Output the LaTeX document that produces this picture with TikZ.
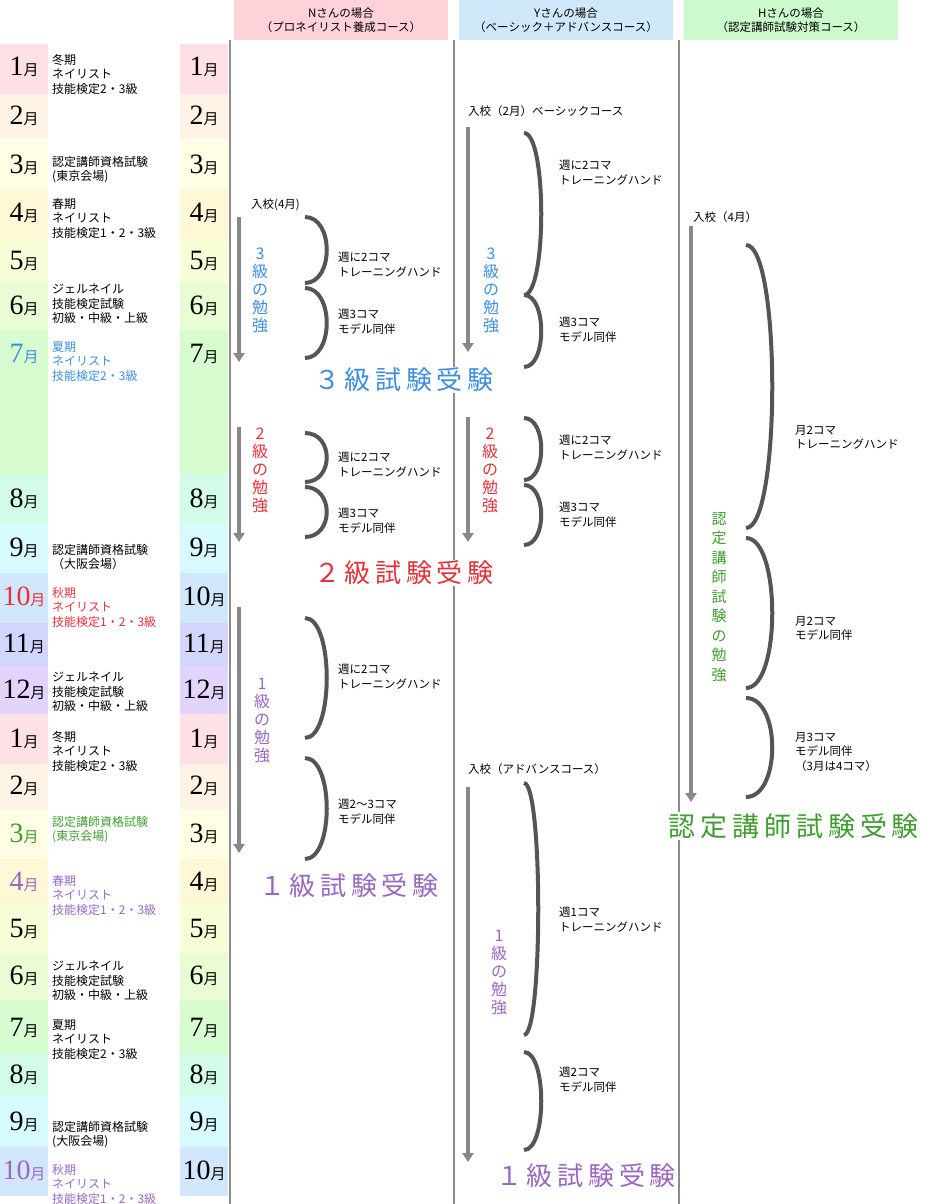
\documentclass[tikz,border=0pt]{standalone}
\usepackage{fontspec}
\setmainfont{Noto Sans CJK JP}
\newfontfamily\numfont{Liberation Serif}
\newfontfamily\examfont[LetterSpace=18]{Noto Sans CJK JP}
\usetikzlibrary{arrows.meta}
\definecolor{CellJan}{HTML}{FFE0E4}
\definecolor{CellFeb}{HTML}{FFF3E6}
\definecolor{CellMar}{HTML}{FFFDE4}
\definecolor{CellApr}{HTML}{FFF8D6}
\definecolor{CellMay}{HTML}{F7FDD6}
\definecolor{CellJun}{HTML}{EAFCD4}
\definecolor{CellJul}{HTML}{D6FCD0}
\definecolor{CellAug}{HTML}{D3FCE8}
\definecolor{CellSep}{HTML}{D6FAFD}
\definecolor{CellOct}{HTML}{D2E6FC}
\definecolor{CellNov}{HTML}{D2D6FC}
\definecolor{CellDec}{HTML}{E2D4FC}
\definecolor{HeadN}{HTML}{FFD2DA}
\definecolor{HeadY}{HTML}{D0E9FA}
\definecolor{HeadH}{HTML}{CDFACD}
\definecolor{StudyBlue}{HTML}{3D8EE0}
\definecolor{StudyRed}{HTML}{E5323A}
\definecolor{StudyPurple}{HTML}{9A68C0}
\definecolor{StudyGreen}{HTML}{3F9E2E}
\definecolor{LineGray}{HTML}{8C8C8C}
\definecolor{ArrowGray}{HTML}{888888}
\definecolor{BraceGray}{HTML}{555555}
\newcommand{\tsuki}[1]{{\numfont\fontsize{28}{28}\selectfont #1}{\fontsize{15}{15}\selectfont 月}}

\begin{document}
\begin{tikzpicture}[x=1pt, y=-1pt,
    evt/.style={anchor=north west, inner sep=0pt, align=left, font=\fontsize{12}{14.5}\selectfont},
    note/.style={anchor=north west, inner sep=0pt, align=left, font=\fontsize{11.5}{14.5}\selectfont},
    hdr/.style={minimum width=214pt, minimum height=40pt, inner sep=0pt, align=center, font=\fontsize{11.5}{14}\selectfont},
    mon/.style={inner sep=0pt},
    tate/.style={align=center, inner sep=0pt, font=\fontsize{16}{18}\selectfont},
    exam/.style={fill=white, inner sep=1pt, font=\examfont\fontsize{26}{26}\selectfont},
    sep/.style={line width=2pt, LineGray},
    arr/.style={-{Triangle[width=11pt,length=9pt]}, line width=4pt, ArrowGray},
    brk/.style={line width=4pt, BraceGray}
  ]
  \useasboundingbox (0,0) rectangle (926,1204);

  \foreach \n/\ya/\yb/\ly/\cc/\kc/\mm in {
      1/44/94/67/CellJan/black/1, 2/94/139/116/CellFeb/black/2,
      3/139/189/165/CellMar/black/3, 4/189/238/213/CellApr/black/4,
      5/238/283/261/CellMay/black/5, 6/283/330/306/CellJun/black/6,
      7/330/474/354/CellJul/StudyBlue/7, 8/474/524/499/CellAug/black/8,
      9/524/573/548/CellSep/black/9, 10/573/623/597/CellOct/StudyRed/10,
      11/623/666/644/CellNov/black/11, 12/666/714/690/CellDec/black/12,
      13/714/764/739/CellJan/black/1, 14/764/809/786/CellFeb/black/2,
      15/809/859/834/CellMar/StudyGreen/3, 16/859/905/882/CellApr/StudyPurple/4,
      17/905/953/929/CellMay/black/5, 18/953/1000/976/CellJun/black/6,
      19/1000/1054/1028/CellJul/black/7, 20/1054/1097/1075/CellAug/black/8,
      21/1097/1147/1122/CellSep/black/9, 22/1147/1196/1171/CellOct/StudyPurple/10}
  {
    \fill[\cc] (0,\ya) rectangle (48,\yb);
    \fill[\cc] (180,\ya) rectangle (228,\yb);
    \node[mon, text=\kc] (ml\n) at (24,\ly) {\tsuki{\mm}};
    \node[mon] (mr\n) at (204,\ly) {\tsuki{\mm}};
  }

  \draw[sep] (229.5,40) -- (229.5,1204);
  \draw[sep] (454,40) -- (454,1204);
  \draw[sep] (679,40) -- (679,1204);

  \node[hdr, fill=HeadN] (hN) at (341,20) {Nさんの場合\\（プロネイリスト養成コース）};
  \node[hdr, fill=HeadY] (hY) at (566,20) {Yさんの場合\\（ベーシック＋アドバンスコース）};
  \node[hdr, fill=HeadH] (hH) at (791,20) {Hさんの場合\\（認定講師試験対策コース）};

  \node[evt] (e1) at (52,54) {冬期\\ネイリスト\\技能検定2・3級};
  \node[evt] (e3) at (52,156) {認定講師資格試験\\(東京会場)};
  \node[evt] (e4) at (52,198) {春期\\ネイリスト\\技能検定1・2・3級};
  \node[evt] (e6) at (52,284) {ジェルネイル\\技能検定試験\\初級・中級・上級};
  \node[evt, text=StudyBlue] (e7) at (52,341) {夏期\\ネイリスト\\技能検定2・3級};
  \node[evt] (e9) at (52,544) {認定講師資格試験\\（大阪会場）};
  \node[evt, text=StudyRed] (e10) at (52,587) {秋期\\ネイリスト\\技能検定1・2・3級};
  \node[evt] (e12) at (52,672) {ジェルネイル\\技能検定試験\\初級・中級・上級};
  \node[evt] (e13) at (52,731) {冬期\\ネイリスト\\技能検定2・3級};
  \node[evt, text=StudyGreen] (e15) at (52,816) {認定講師資格試験\\(東京会場)};
  \node[evt, text=StudyPurple] (e16) at (52,875) {春期\\ネイリスト\\技能検定1・2・3級};
  \node[evt] (e18) at (52,961) {ジェルネイル\\技能検定試験\\初級・中級・上級};
  \node[evt] (e19) at (52,1019) {夏期\\ネイリスト\\技能検定2・3級};
  \node[evt] (e21) at (52,1121) {認定講師資格試験\\(大阪会場)};
  \node[evt, text=StudyPurple] (e22) at (52,1164) {秋期\\ネイリスト\\技能検定1・2・3級};

  \coordinate (na1s) at (239,217); \coordinate (na1e) at (239,362);
  \coordinate (na2s) at (239,427); \coordinate (na2e) at (239,542);
  \coordinate (na3s) at (239,607); \coordinate (na3e) at (239,853);
  \coordinate (ya1s) at (468,127); \coordinate (ya1e) at (468,352);
  \coordinate (ya2s) at (468,417); \coordinate (ya2e) at (468,542);
  \coordinate (ya3s) at (468,787); \coordinate (ya3e) at (468,1162);
  \coordinate (ha1s) at (691,226); \coordinate (ha1e) at (691,802);

  \draw[arr] (na1s) -- (na1e);
  \draw[arr] (na2s) -- (na2e);
  \draw[arr] (na3s) -- (na3e);
  \draw[arr] (ya1s) -- (ya1e);
  \draw[arr] (ya2s) -- (ya2e);
  \draw[arr] (ya3s) -- (ya3e);
  \draw[arr] (ha1s) -- (ha1e);

  \foreach \bx/\ya/\yb/\dx in {305/217/283/29, 305/288/358/29, 305/433/482/29,
      305/487/537/29, 305/618/738/29, 305/758/859/29,
      524/133/295/23, 524/295/367/23, 524/418/480/23, 524/485/545/23,
      524/783/1035/19, 524/1052/1150/23,
      746/245/528/35, 746/538/688/35, 746/698/797/35}
    \draw[brk] (\bx,\ya) .. controls +(\dx,0) and +(\dx,0) .. (\bx,\yb);

  \node[note] (nin) at (251,199) {入校(4月)};
  \node[note] (yin1) at (468,105) {入校（2月）ベーシックコース};
  \node[note] (yin2) at (468,763) {入校（アドバンスコース）};
  \node[note] (hin) at (693,211) {入校（4月）};

  \node[tate, text=StudyBlue] (nst1) at (260,290) {3\\級\\の\\勉\\強};
  \node[tate, text=StudyRed] (nst2) at (260,470) {2\\級\\の\\勉\\強};
  \node[tate, text=StudyPurple] (nst3) at (262,720) {1\\級\\の\\勉\\強};
  \node[tate, text=StudyBlue] (yst1) at (491,290) {3\\級\\の\\勉\\強};
  \node[tate, text=StudyRed] (yst2) at (490,470) {2\\級\\の\\勉\\強};
  \node[tate, text=StudyPurple] (yst3) at (499,972) {1\\級\\の\\勉\\強};
  \node[tate, text=StudyGreen, font=\fontsize{15}{19.5}\selectfont] (hst) at (719,597) {認\\定\\講\\師\\試\\験\\の\\勉\\強};

  \node[note] (n1a) at (338,252) {週に2コマ\\トレーニングハンド};
  \node[note] (n1b) at (338,309) {週3コマ\\モデル同伴};
  \node[note] (n2a) at (338,452) {週に2コマ\\トレーニングハンド};
  \node[note] (n2b) at (338,508) {週3コマ\\モデル同伴};
  \node[note] (n3a) at (338,664) {週に2コマ\\トレーニングハンド};
  \node[note] (n3b) at (338,799) {週2～3コマ\\モデル同伴};
  \node[note] (y1a) at (559,160) {週に2コマ\\トレーニングハンド};
  \node[note] (y1b) at (559,317) {週3コマ\\モデル同伴};
  \node[note] (y2a) at (559,435) {週に2コマ\\トレーニングハンド};
  \node[note] (y2b) at (559,502) {週3コマ\\モデル同伴};
  \node[note] (y3a) at (559,907) {週1コマ\\トレーニングハンド};
  \node[note] (y3b) at (559,1067) {週2コマ\\モデル同伴};
  \node[note] (h1a) at (795,425) {月2コマ\\トレーニングハンド};
  \node[note] (h1b) at (795,616) {月2コマ\\モデル同伴};
  \node[note] (h1c) at (795,732) {月3コマ\\モデル同伴\\（3月は4コマ）};

  \node[exam, text=StudyBlue] (nex3) at (404,380) {３級試験受験};
  \node[exam, text=StudyRed] (nex2) at (404,573) {２級試験受験};
  \node[exam, text=StudyPurple] (nex1) at (349,886) {１級試験受験};
  \node[exam, text=StudyPurple] (yex1) at (586,1176) {１級試験受験};
  \node[exam, text=StudyGreen, font=\examfont\fontsize{27}{27}\selectfont] (hex) at (794,826) {認定講師試験受験};
\end{tikzpicture}
\end{document}
